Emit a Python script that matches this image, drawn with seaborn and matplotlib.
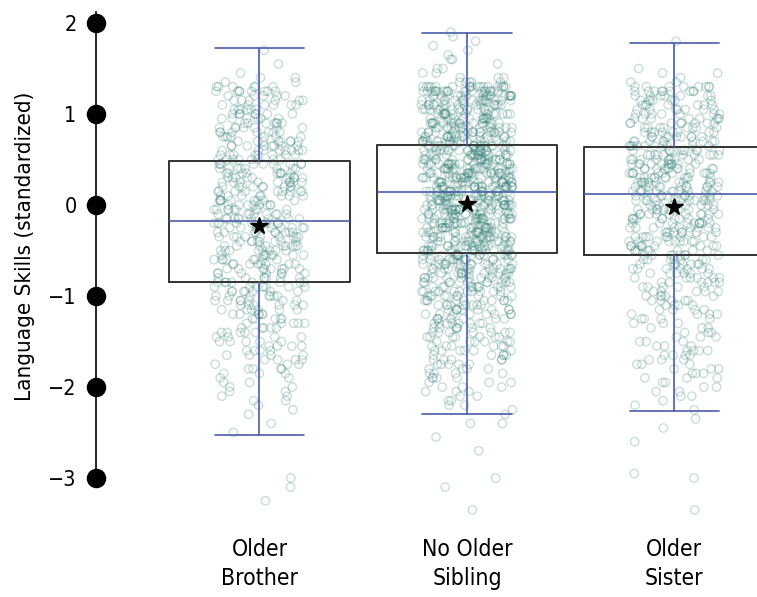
import numpy as np
import pandas as pd
import seaborn as sns
import matplotlib.pyplot as plt

# categories and data
categories = ["Older\nBrother", "No Older\nSibling", "Older\nSister"]

# value grid (1.90 down to -3.35 in steps of 0.05) and children per grid value
bin_values = np.round(np.linspace(1.9, -3.35, 106), 2)
counts_brother = [0, 0, 0, 0, 1, 0, 0, 1, 0, 1,
                  2, 2, 6, 8, 5, 6, 6, 6, 7, 6,
                  7, 7, 7, 7, 8, 8, 8, 8, 8, 9,
                  8, 9, 10, 9, 9, 9, 8, 9, 8, 9,
                  8, 9, 9, 9, 9, 9, 8, 9, 8, 8,
                  8, 8, 8, 7, 7, 8, 8, 7, 7, 7,
                  6, 6, 6, 5, 5, 5, 5, 4, 5, 4,
                  4, 4, 4, 3, 4, 3, 2, 2, 2, 2,
                  2, 2, 1, 1, 1, 0, 1, 0, 1, 0,
                  0, 0, 0, 0, 0, 0, 0, 0, 1, 0,
                  1, 0, 0, 1, 0, 0]
counts_none = [1, 1, 1, 1, 1, 1, 2, 1, 2, 2,
               3, 5, 18, 20, 18, 16, 16, 15, 15, 15,
               16, 16, 17, 17, 18, 18, 19, 19, 20, 20,
               20, 20, 21, 21, 21, 21, 21, 20, 20, 20,
               19, 19, 19, 18, 18, 18, 17, 17, 17, 16,
               14, 14, 13, 13, 12, 12, 11, 11, 10, 10,
               9, 9, 8, 8, 8, 7, 7, 7, 6, 6,
               6, 5, 5, 5, 4, 4, 4, 3, 3, 3,
               2, 2, 2, 1, 1, 0, 2, 0, 0, 1,
               0, 0, 1, 0, 0, 0, 0, 0, 1, 0,
               1, 0, 0, 0, 0, 1]
counts_sister = [0, 0, 1, 0, 0, 0, 0, 0, 1, 2,
                 1, 2, 8, 9, 7, 7, 7, 7, 7, 8,
                 8, 8, 8, 9, 9, 10, 10, 10, 10, 11,
                 11, 11, 11, 11, 11, 11, 11, 11, 10, 10,
                 10, 10, 10, 9, 9, 9, 9, 9, 8, 8,
                 7, 7, 7, 6, 6, 6, 5, 5, 5, 5,
                 4, 4, 4, 4, 3, 3, 3, 3, 3, 3,
                 4, 4, 3, 3, 3, 3, 3, 2, 2, 2,
                 2, 1, 1, 1, 0, 1, 0, 1, 0, 0,
                 1, 0, 0, 0, 0, 0, 0, 1, 1, 0,
                 0, 0, 0, 0, 0, 1]

# box statistics
q1 = [-0.85, -0.525, -0.547]
medians = [-0.173, 0.145, 0.123]
q3 = [0.485, 0.661, 0.639]
whisker_low = [-2.523, -2.292, -2.259]
whisker_high = [1.726, 1.89, 1.78]
means = [-0.228, 0.013, -0.02]

yticks = [-3, -2, -1, 0, 1, 2]

teal = "#2b7a6f"
blue = "#4a5ea8"

rows = []
for cat, counts in zip(categories, [counts_brother, counts_none, counts_sister]):
    vals = np.repeat(bin_values, counts)
    rows.append(pd.DataFrame({"group": cat, "value": vals}))
df = pd.concat(rows, ignore_index=True)

sns.set_style("white")
plt.rcParams["font.family"] = ["DejaVu Sans"]
plt.rcParams["font.stretch"] = "condensed"

fig = plt.figure(figsize=(7.57, 5.97), dpi=100)
ax = fig.add_axes([96 / 757, 78 / 597, 661 / 757, 514.2 / 597])

np.random.seed(3)
sns.stripplot(data=df, x="group", y="value", order=categories, jitter=0.22,
              size=6, color=teal, facecolor="none", edgecolor=teal,
              linewidth=1, alpha=0.25, zorder=2, ax=ax)

stats = []
for i in range(3):
    stats.append(dict(med=medians[i], q1=q1[i], q3=q3[i], whislo=whisker_low[i],
                      whishi=whisker_high[i], mean=means[i], fliers=[]))
ax.bxp(stats, positions=[0, 1, 2], widths=0.87, capwidths=0.43,
       showfliers=False, showmeans=True, manage_ticks=False, zorder=4,
       boxprops=dict(color="#333333", lw=1.4),
       whiskerprops=dict(color=blue, lw=1.2),
       capprops=dict(color=blue, lw=1.2),
       medianprops=dict(color=blue, lw=1.2),
       meanprops=dict(marker="*", markerfacecolor="black",
                      markeredgecolor="black", markersize=13))

ax.set_xlim(-0.788, 2.398)
ax.set_ylim(-3.45, 2.2)
ax.set_yticks(yticks)

# big round tick marks on the y axis
ax.scatter([0] * len(yticks), yticks, transform=ax.get_yaxis_transform(),
           s=170, color="black", clip_on=False, zorder=6)

for side in ["top", "right", "bottom"]:
    ax.spines[side].set_visible(False)
ax.spines["left"].set_bounds(-3, 2.12)
ax.spines["left"].set_color("black")
ax.spines["left"].set_linewidth(1.2)

ax.tick_params(axis="y", length=0, pad=14, labelsize=15.5, labelcolor="black")
ax.tick_params(axis="x", length=0, pad=14, labelsize=16.5, labelcolor="black")
for lab in ax.get_xticklabels():
    lab.set_linespacing(1.3)

ax.set_xlabel("")
ax.set_ylabel("Language Skills (standardized)", fontsize=16, color="black")
ax.yaxis.set_label_coords(-0.093, 0.53)

fig.savefig("out.png", dpi=100)
